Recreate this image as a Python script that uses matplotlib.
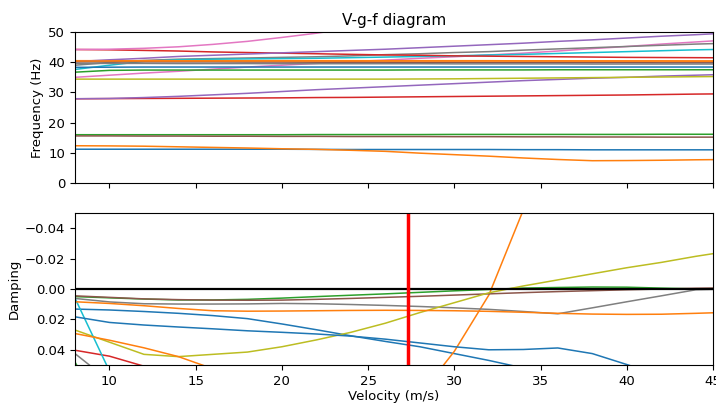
import matplotlib
matplotlib.use("Agg")
import matplotlib.pyplot as plt

plt.rcParams["font.size"] = 9.5

velocity = [8, 10, 12, 14, 16, 18, 20, 22, 24, 26, 28, 30, 32, 34, 36, 38, 40, 42, 44, 46]
flutter_speed = 27.3

# Frequency (Hz) per mode
f_blue_a = [11.2, 11.2, 11.2, 11.2, 11.2, 11.2, 11.2, 11.15, 11.1, 11.1, 11.1, 11.1, 11.1, 11.05, 11.05, 11.0, 11.0, 11.0, 11.0, 11.0]
f_orange_a = [12.35, 12.3, 12.2, 12.0, 11.8, 11.6, 11.35, 11.15, 10.85, 10.5, 9.9, 9.4, 8.9, 8.3, 7.8, 7.4, 7.45, 7.55, 7.7, 7.8]
f_green_a = [16.0, 16.0, 16.0, 16.0, 16.0, 16.0, 16.0, 16.05, 16.05, 16.05, 16.05, 16.1, 16.1, 16.1, 16.1, 16.1, 16.1, 16.15, 16.15, 16.15]
f_red_a = [27.9, 27.95, 28.0, 28.05, 28.1, 28.15, 28.2, 28.3, 28.35, 28.45, 28.55, 28.65, 28.75, 28.85, 28.95, 29.05, 29.15, 29.3, 29.45, 29.55]
f_purple_a = [27.9, 28.0, 28.3, 28.7, 29.2, 29.7, 30.3, 30.9, 31.4, 31.9, 32.4, 32.9, 33.4, 33.9, 34.3, 34.7, 35.0, 35.4, 35.7, 36.0]
f_brown_a = [15.6, 15.6, 15.55, 15.55, 15.5, 15.5, 15.45, 15.45, 15.4, 15.4, 15.4, 15.35, 15.35, 15.3, 15.3, 15.25, 15.25, 15.2, 15.2, 15.2]
f_pink_a = [35.0, 35.7, 36.4, 37.0, 37.7, 38.4, 39.0, 39.6, 40.2, 40.7, 41.3, 41.8, 42.4, 43.0, 43.7, 44.5, 45.2, 46.0, 46.7, 47.4]
f_gray_a = [39.0, 39.9, 40.6, 41.0, 41.2, 41.4, 41.6, 41.8, 42.1, 42.5, 42.8, 43.2, 43.5, 44.0, 44.4, 44.8, 45.2, 45.6, 46.0, 46.3]
f_olive_a = [34.4, 34.4, 34.4, 34.4, 34.4, 34.4, 34.4, 34.4, 34.4, 34.4, 34.45, 34.5, 34.6, 34.7, 34.8, 34.9, 35.0, 35.1, 35.2, 35.3]
f_cyan_a = [37.6, 39.0, 40.3, 40.8, 41.0, 41.1, 41.2, 41.3, 41.5, 41.7, 41.9, 42.1, 42.4, 42.6, 42.9, 43.2, 43.5, 43.8, 44.1, 44.3]
f_blue_b = [38.3, 38.35, 38.4, 38.4, 38.4, 38.4, 38.4, 38.4, 38.4, 38.4, 38.4, 38.4, 38.4, 38.4, 38.4, 38.4, 38.4, 38.4, 38.4, 38.4]
f_orange_b = [40.5, 40.5, 40.5, 40.5, 40.5, 40.5, 40.5, 40.5, 40.5, 40.5, 40.5, 40.5, 40.5, 40.45, 40.45, 40.4, 40.4, 40.4, 40.35, 40.35]
f_green_b = [36.7, 37.3, 37.4, 37.4, 37.4, 37.4, 37.4, 37.4, 37.4, 37.4, 37.45, 37.45, 37.45, 37.45, 37.5, 37.5, 37.5, 37.5, 37.5, 37.5]
f_red_b = [44.2, 44.1, 43.9, 43.7, 43.4, 43.2, 43.0, 42.8, 42.6, 42.4, 42.3, 42.1, 42.0, 41.9, 41.8, 41.7, 41.6, 41.55, 41.5, 41.45]
f_purple_b = [40.2, 40.8, 41.3, 41.9, 42.3, 42.7, 43.1, 43.5, 43.9, 44.3, 44.8, 45.3, 45.8, 46.3, 46.9, 47.4, 48.0, 48.6, 49.1, 49.7]
f_brown_b = [40.1, 40.1, 40.1, 40.1, 40.1, 40.05, 40.05, 40.0, 40.0, 40.0, 39.95, 39.95, 39.9, 39.9, 39.9, 39.85, 39.85, 39.8, 39.8, 39.8]
f_pink_b = [44.2, 44.3, 44.6, 45.1, 45.9, 46.9, 48.2, 49.6, 51.2, 53.0, 55.0, 57.0, 59.0, 61.0, 63.0, 65.0, 67.0, 69.0, 71.0, 73.0]
f_gray_b = [39.6, 39.6, 39.6, 39.55, 39.55, 39.55, 39.5, 39.5, 39.5, 39.5, 39.5, 39.45, 39.45, 39.45, 39.45, 39.4, 39.4, 39.4, 39.4, 39.4]
f_orange_c = [40.3, 40.3, 40.3, 40.3, 40.3, 40.3, 40.3, 40.3, 40.3, 40.3, 40.3, 40.3, 40.3, 40.3, 40.3, 40.3, 40.3, 40.3, 40.3, 40.3]

# Damping per mode
g_blue_a = [0.0132, 0.0138, 0.0148, 0.0160, 0.0175, 0.0195, 0.0230, 0.0268, 0.0308, 0.0345, 0.0380, 0.0425, 0.0470, 0.0520, 0.0565, 0.0610, 0.0650, 0.0690, 0.0730, 0.0770]
g_orange_a = [0.110, 0.108, 0.106, 0.104, 0.102, 0.100, 0.098, 0.095, 0.092, 0.085, 0.070, 0.041, 0.004, -0.052, -0.100, -0.140, -0.170, -0.190, -0.205, -0.215]
g_green_a = [0.0050, 0.0058, 0.0066, 0.0072, 0.0072, 0.0068, 0.0060, 0.0050, 0.0041, 0.0032, 0.0022, 0.0012, 0.0003, -0.0006, -0.0010, -0.0013, -0.0012, -0.0006, -0.0001, 0.0]
g_red_a = [0.0403, 0.0442, 0.0508, 0.0580, 0.0650, 0.0710, 0.0760, 0.0800, 0.0830, 0.0850, 0.0870, 0.0880, 0.0890, 0.0900, 0.0905, 0.0910, 0.0915, 0.0920, 0.0925, 0.0930]
g_purple_a = [0.080, 0.081, 0.082, 0.083, 0.084, 0.085, 0.086, 0.087, 0.088, 0.089, 0.090, 0.091, 0.092, 0.093, 0.094, 0.095, 0.096, 0.097, 0.098, 0.099]
g_brown_a = [0.0045, 0.0055, 0.0065, 0.0070, 0.0073, 0.0074, 0.0073, 0.0068, 0.0062, 0.0055, 0.0048, 0.0040, 0.0032, 0.0024, 0.0017, 0.0011, 0.0005, 0.0, -0.0005, -0.0008]
g_pink_a = [0.070, 0.071, 0.072, 0.073, 0.074, 0.075, 0.076, 0.077, 0.078, 0.079, 0.080, 0.081, 0.082, 0.083, 0.084, 0.085, 0.086, 0.087, 0.088, 0.089]
g_gray_a = [0.0062, 0.0085, 0.0097, 0.0099, 0.0099, 0.0098, 0.0095, 0.0097, 0.0102, 0.0108, 0.0115, 0.0124, 0.0134, 0.0148, 0.0163, 0.0124, 0.0084, 0.0045, 0.0005, 0.0]
g_olive_a = [0.0270, 0.0350, 0.0430, 0.0445, 0.0430, 0.0415, 0.0380, 0.0335, 0.0285, 0.0225, 0.0155, 0.0090, 0.0025, -0.0020, -0.0060, -0.0100, -0.0140, -0.0175, -0.0215, -0.0250]
g_cyan_a = [0.0060, 0.0540, 0.1000, 0.1300, 0.1500, 0.1600, 0.1700, 0.1750, 0.1800, 0.1850, 0.1900, 0.1950, 0.2000, 0.2050, 0.2100, 0.2150, 0.2200, 0.2250, 0.2300, 0.2350]
g_blue_b = [0.0183, 0.0220, 0.0237, 0.0250, 0.0262, 0.0275, 0.0285, 0.0296, 0.0310, 0.0330, 0.0355, 0.0380, 0.0400, 0.0398, 0.0388, 0.0425, 0.0497, 0.0570, 0.0640, 0.0710]
g_orange_b = [0.0084, 0.0095, 0.0110, 0.0128, 0.0143, 0.0146, 0.0145, 0.0143, 0.0141, 0.0140, 0.0141, 0.0143, 0.0147, 0.0153, 0.0160, 0.0165, 0.0167, 0.0166, 0.0160, 0.0153]
g_green_b = [0.0480, 0.0900, 0.1200, 0.1400, 0.1500, 0.1600, 0.1650, 0.1700, 0.1750, 0.1800, 0.1850, 0.1900, 0.1950, 0.2000, 0.2050, 0.2100, 0.2150, 0.2200, 0.2250, 0.2300]
g_red_b = [0.075, 0.076, 0.077, 0.078, 0.079, 0.080, 0.081, 0.082, 0.083, 0.084, 0.085, 0.086, 0.087, 0.088, 0.089, 0.090, 0.091, 0.092, 0.093, 0.094]
g_purple_b = [0.090, 0.091, 0.092, 0.093, 0.094, 0.095, 0.096, 0.097, 0.098, 0.099, 0.100, 0.101, 0.102, 0.103, 0.104, 0.105, 0.106, 0.107, 0.108, 0.109]
g_brown_b = [0.085, 0.086, 0.087, 0.088, 0.089, 0.090, 0.091, 0.092, 0.093, 0.094, 0.095, 0.096, 0.097, 0.098, 0.099, 0.100, 0.101, 0.102, 0.103, 0.104]
g_pink_b = [0.095, 0.096, 0.097, 0.098, 0.099, 0.100, 0.101, 0.102, 0.103, 0.104, 0.105, 0.106, 0.107, 0.108, 0.109, 0.110, 0.111, 0.112, 0.113, 0.114]
g_gray_b = [0.0425, 0.0605, 0.0750, 0.0850, 0.0920, 0.0970, 0.1000, 0.1020, 0.1040, 0.1060, 0.1080, 0.1100, 0.1120, 0.1140, 0.1160, 0.1180, 0.1200, 0.1220, 0.1240, 0.1260]
g_orange_c = [0.0293, 0.0337, 0.0387, 0.0445, 0.0525, 0.0600, 0.0660, 0.0710, 0.0750, 0.0780, 0.0800, 0.0820, 0.0840, 0.0860, 0.0880, 0.0900, 0.0920, 0.0940, 0.0960, 0.0980]

freq_modes = [f_blue_a, f_orange_a, f_green_a, f_red_a, f_purple_a, f_brown_a, f_pink_a, f_gray_a,
              f_olive_a, f_cyan_a, f_blue_b, f_orange_b, f_green_b, f_red_b, f_purple_b, f_brown_b,
              f_pink_b, f_gray_b, f_orange_c]
damp_modes = [g_blue_a, g_orange_a, g_green_a, g_red_a, g_purple_a, g_brown_a, g_pink_a, g_gray_a,
              g_olive_a, g_cyan_a, g_blue_b, g_orange_b, g_green_b, g_red_b, g_purple_b, g_brown_b,
              g_pink_b, g_gray_b, g_orange_c]
mode_colors = ["tab:blue", "tab:orange", "tab:green", "tab:red", "tab:purple", "tab:brown", "tab:pink",
               "tab:gray", "tab:olive", "tab:cyan", "tab:blue", "tab:orange", "tab:green", "tab:red",
               "tab:purple", "tab:brown", "tab:pink", "tab:gray", "tab:orange"]

fig = plt.figure(figsize=(7.16, 4.05), dpi=100)
ax1 = fig.add_axes([0.1047, 0.548, 0.8911, 0.373])
ax2 = fig.add_axes([0.1047, 0.0988, 0.8911, 0.3752], sharex=ax1)

for f, g, c in zip(freq_modes, damp_modes, mode_colors):
    ax1.plot(velocity, f, color=c, lw=1.1)
    ax2.plot(velocity, g, color=c, lw=1.1)

ax1.set_xlim(8, 45)
ax1.set_ylim(0, 50)
ax1.set_ylabel("Frequency (Hz)", labelpad=3)
ax1.set_title("V-g-f diagram", fontsize=11, pad=5)
ax1.tick_params(labelbottom=False)

ax2.axhline(0, color="black", lw=1.6)
ax2.axvline(flutter_speed, color="red", lw=2.5)
ax2.set_ylim(0.05, -0.05)
ax2.set_yticks([-0.04, -0.02, 0.0, 0.02, 0.04])
ax2.set_ylabel("Damping", labelpad=3)
ax2.set_xlabel("Velocity (m/s)", labelpad=2)

fig.savefig("out.png", dpi=100)
